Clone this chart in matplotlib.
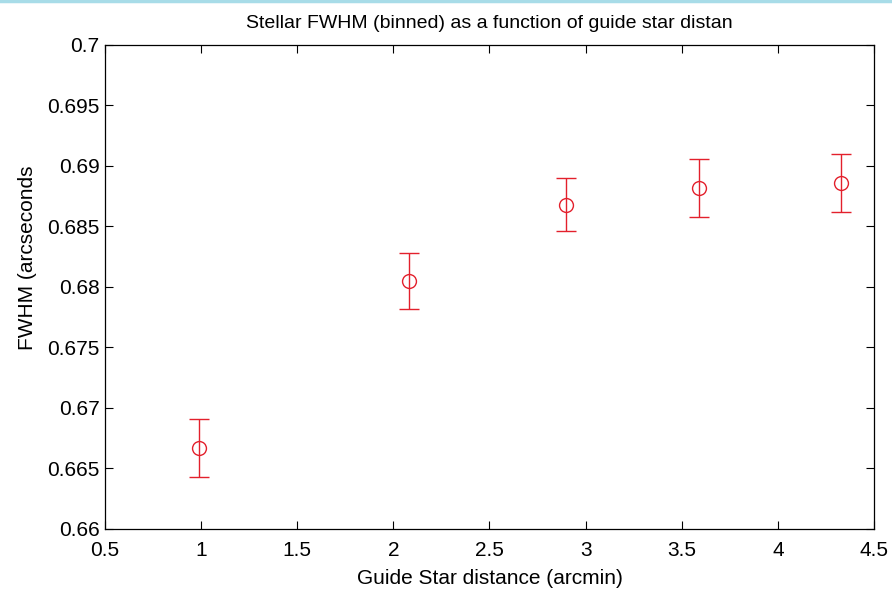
import matplotlib
matplotlib.use("Agg")
import matplotlib.pyplot as plt
from matplotlib.ticker import FuncFormatter, FixedLocator
from matplotlib.lines import Line2D

# Data
distance = [0.99, 2.08, 2.90, 3.59, 4.33]
fwhm = [0.6667, 0.6805, 0.6868, 0.6882, 0.6886]
err = [0.0024, 0.0023, 0.0022, 0.0024, 0.0024]
xticks = [0.5, 1, 1.5, 2, 2.5, 3, 3.5, 4, 4.5]
yticks = [0.66, 0.665, 0.67, 0.675, 0.68, 0.685, 0.69, 0.695, 0.7]

plt.rcParams['font.family'] = ['Liberation Sans', 'DejaVu Sans']

fig = plt.figure(figsize=(8.92, 5.89), dpi=100)
ax = fig.add_axes([0.1177, 0.1019, 0.8621, 0.8217])

ax.errorbar(distance, fwhm, yerr=err, fmt='o', color='#e3202c',
            mfc='none', mec='#e3202c', ms=10, mew=1.0, elinewidth=1.0,
            capsize=7, capthick=1.0)

ax.set_xlim(0.5, 4.5)
ax.set_ylim(0.66, 0.7)
ax.xaxis.set_major_locator(FixedLocator(xticks))
ax.yaxis.set_major_locator(FixedLocator(yticks))
fmt = FuncFormatter(lambda v, p: ('%g' % round(v, 4)))
ax.xaxis.set_major_formatter(fmt)
ax.yaxis.set_major_formatter(fmt)
ax.tick_params(direction='in', length=6, width=0.8, top=True, right=True,
               labelsize=15, colors='black')
ax.tick_params(axis='x', pad=9)
ax.tick_params(axis='y', pad=4)
for s in ax.spines.values():
    s.set_linewidth(0.9)

ax.set_xlabel('Guide Star distance (arcmin)', fontsize=15, labelpad=6)
ax.set_ylabel('FWHM (arcseconds', fontsize=15)
ax.yaxis.set_label_coords(-0.089, 0.56)
ax.set_title('Stellar FWHM (binned) as a function of guide star distan',
             fontsize=14, pad=12)

# top border strip from the screenshot
fig.add_artist(Line2D([0, 1], [0.998, 0.998], transform=fig.transFigure,
                      color='#a8dce8', lw=2.5))

fig.savefig('out.png', dpi=100)
